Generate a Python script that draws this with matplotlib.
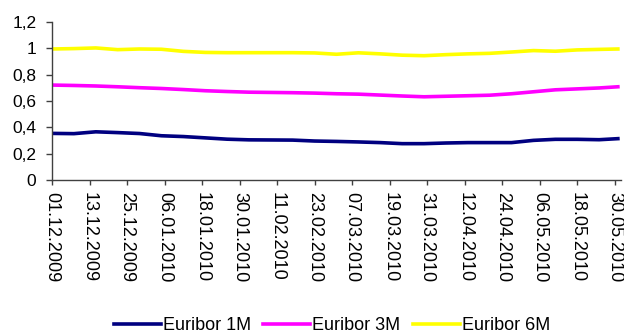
"""
Euribor 1M / 3M / 6M, Dec 2009 - May 2010
"""

import numpy as np
import pandas as pd

import matplotlib as mpl
mpl.use("Agg")
import matplotlib.pyplot as plt
import matplotlib.dates as mdates

plt.rcParams["font.family"] = ["Liberation Sans", "DejaVu Sans"]

dates = [
    "2009-12-01", "2009-12-08", "2009-12-15", "2009-12-22", "2009-12-29",
    "2010-01-05", "2010-01-12", "2010-01-19", "2010-01-26",
    "2010-02-02", "2010-02-09", "2010-02-16", "2010-02-23",
    "2010-03-02", "2010-03-09", "2010-03-16", "2010-03-23", "2010-03-30",
    "2010-04-06", "2010-04-13", "2010-04-20", "2010-04-27",
    "2010-05-04", "2010-05-11", "2010-05-18", "2010-05-25", "2010-05-31",
]

euribor_1m = [
    0.354, 0.352, 0.366, 0.360, 0.353,
    0.336, 0.330, 0.320, 0.310,
    0.305, 0.304, 0.303, 0.296,
    0.293, 0.289, 0.284, 0.276, 0.276,
    0.281, 0.284, 0.284, 0.284,
    0.301, 0.309, 0.309, 0.306, 0.314,
]

euribor_3m = [
    0.721, 0.718, 0.714, 0.708, 0.701,
    0.695, 0.687, 0.678, 0.672,
    0.667, 0.665, 0.663, 0.660,
    0.655, 0.652, 0.645, 0.638, 0.632,
    0.636, 0.640, 0.644, 0.655,
    0.670, 0.685, 0.692, 0.699, 0.708,
]

euribor_6m = [
    0.995, 0.998, 1.003, 0.990, 0.995,
    0.993, 0.977, 0.969, 0.967,
    0.967, 0.967, 0.967, 0.965,
    0.955, 0.966, 0.958, 0.948, 0.944,
    0.952, 0.958, 0.962, 0.972,
    0.983, 0.978, 0.988, 0.992, 0.995,
]

series = [
    ("Euribor 1M", euribor_1m, "#000080"),
    ("Euribor 3M", euribor_3m, "#FF00FF"),
    ("Euribor 6M", euribor_6m, "#FFFF00"),
]

tick_dates = pd.date_range("2009-12-01", "2010-05-30", freq="12D")
y_ticks = [0, 0.2, 0.4, 0.6, 0.8, 1.0, 1.2]


def main():
    x = pd.to_datetime(dates)

    fig = plt.figure(figsize=(6.24, 3.36), dpi=100)
    ax = fig.add_axes([52 / 624, 1 - 180 / 336, (621 - 52) / 624, (180 - 22) / 336])

    for label, values, color in series:
        ax.plot(x, values, color=color, lw=2.6, label=label)

    ax.set_xlim(pd.Timestamp("2009-12-01"), pd.Timestamp("2010-06-01"))
    ax.set_ylim(0, 1.2)
    ax.set_xticks(tick_dates)
    ax.xaxis.set_major_formatter(mdates.DateFormatter("%d.%m.%Y"))
    ax.set_yticks(y_ticks)
    ax.set_yticklabels([f"{v:g}".replace(".", ",") for v in y_ticks])

    for side in ("top", "right"):
        ax.spines[side].set_visible(False)
    for side in ("left", "bottom"):
        ax.spines[side].set_color("#404040")
        ax.spines[side].set_linewidth(1.0)
    ax.tick_params(axis="both", direction="out", width=1.0, color="#404040")
    ax.tick_params(axis="y", length=4.3, pad=7, labelsize=12.5)
    ax.tick_params(axis="x", length=3.6, pad=5, labelsize=13, labelrotation=270)
    for lbl in ax.get_xticklabels():
        lbl.set_horizontalalignment("center")
        lbl.set_verticalalignment("top")

    fig.legend(loc="center", bbox_to_anchor=(0.532, 0.03), ncol=3,
               frameon=False, fontsize=13, handlelength=2.6,
               handletextpad=0.1, columnspacing=0.7, borderpad=0)

    fig.savefig("out.png", dpi=100)


if __name__ == "__main__": main()
